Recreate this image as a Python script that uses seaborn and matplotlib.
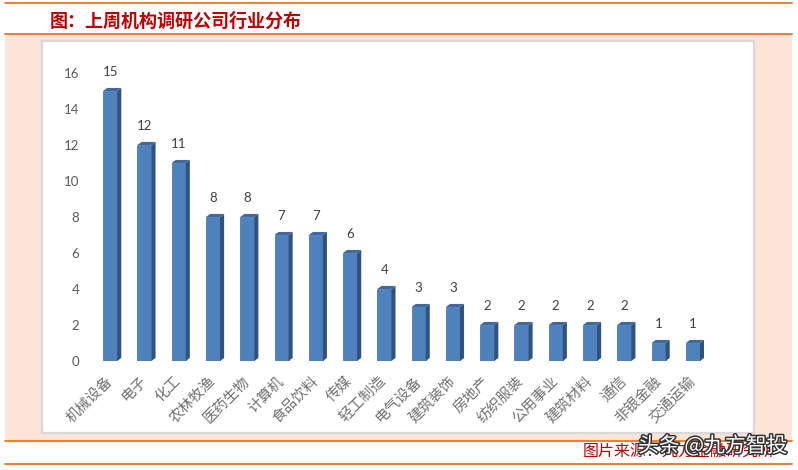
import matplotlib
matplotlib.use("Agg")
import matplotlib.pyplot as plt
import matplotlib.patheffects as pe
from matplotlib.patches import Rectangle, Polygon
import pandas as pd
import seaborn as sns

# Industry distribution of companies surveyed by institutions last week.
industries = ["机械设备", "电子", "化工", "农林牧渔", "医药生物", "计算机", "食品饮料", "传媒",
              "轻工制造", "电气设备", "建筑装饰", "房地产", "纺织服装", "公用事业", "建筑材料",
              "通信", "非银金融", "交通运输"]
counts = [15, 12, 11, 8, 8, 7, 7, 6, 4, 3, 3, 2, 2, 2, 2, 2, 1, 1]
y_ticks = [0, 2, 4, 6, 8, 10, 12, 14, 16]

title = "图：上周机构调研公司行业分布"
source = "图片来源：九方金融研究所"
watermark = "头条 @九方智投"

sns.set_theme(style="white")
plt.rcParams["font.family"] = ["Noto Sans CJK SC", "DejaVu Sans"]

W, H = 798, 470
fig = plt.figure(figsize=(W / 100, H / 100), dpi=100)
fig.patch.set_facecolor("white")


def px_rect(x0, y0, x1, y1, **kw):
    # rectangle given in pixel coords measured from the top-left corner
    fig.patches.append(Rectangle((x0 / W, 1 - y1 / H), (x1 - x0) / W, (y1 - y0) / H,
                                 transform=fig.transFigure, figure=fig, **kw))


orange = "#ED7D31"
peach = "#FCE4D6"
px_rect(5, 34, 792, 441, facecolor=peach, edgecolor="none", zorder=0)
px_rect(42, 41, 754, 433, facecolor="white", edgecolor="#D9D9D9", linewidth=1.6, zorder=1)
for yy in (3, 34, 441, 464):
    fig.add_artist(plt.Line2D([5 / W, 792 / W], [1 - yy / H, 1 - yy / H],
                              color=orange, linewidth=1.4, transform=fig.transFigure))

fig.text(50 / W, 1 - 21 / H, title, color="#C00000", fontsize=13, fontweight="bold",
         va="center", ha="left")
fig.text(583 / W, 1 - 452 / H, source, color="#C00000", fontsize=11.5,
         va="center", ha="left")
fig.text(638 / W, 1 - 446 / H, watermark, color="white", fontsize=15,
         va="center", ha="left", zorder=10,
         path_effects=[pe.withStroke(linewidth=2.2, foreground="#333333")])

ax = fig.add_axes([93 / W, 109 / H, 617 / W, 288 / H], zorder=2)
ax.patch.set_alpha(0)

df = pd.DataFrame({"industry": industries, "count": counts})
sns.barplot(data=df, x="industry", y="count", color="#4F81BD", saturation=1,
            width=0.41, edgecolor="#3F6DA5", linewidth=0.5, ax=ax)

# fake 3D: side and top faces built from each bar
dx, dy = 0.12, 0.17
for p in list(ax.patches):
    x0, w, h = p.get_x(), p.get_width(), p.get_height()
    side = [(x0 + w, 0), (x0 + w + dx, dy), (x0 + w + dx, h + dy), (x0 + w, h)]
    top = [(x0, h), (x0 + dx, h + dy), (x0 + w + dx, h + dy), (x0 + w, h)]
    ax.add_patch(Polygon(side, closed=True, facecolor="#2F5381", edgecolor="none", clip_on=False))
    ax.add_patch(Polygon(top, closed=True, facecolor="#41699B", edgecolor="none", clip_on=False))

ax.bar_label(ax.containers[0], labels=[str(v) for v in counts], padding=9,
             fontsize=9.5, color="#404040", family=["Lato", "DejaVu Sans"])

ax.set_xlim(-0.5, len(industries) - 0.5)
ax.set_ylim(0, 16)
ax.set_yticks(y_ticks)
ax.set_yticklabels([str(t) for t in y_ticks], family=["Lato", "DejaVu Sans"],
                   fontsize=9.5, color="#595959")
ax.tick_params(axis="y", length=0, pad=10)
ax.tick_params(axis="x", length=0, pad=13)
ax.set_xticks(range(len(industries)))
ax.set_xticklabels(industries, rotation=45, ha="right", va="center",
                   rotation_mode="anchor", fontsize=10.5, color="#707070")
ax.set_xlabel("")
ax.set_ylabel("")
for s in ax.spines.values():
    s.set_visible(False)
ax.grid(False)

fig.savefig("out.png", dpi=100)
